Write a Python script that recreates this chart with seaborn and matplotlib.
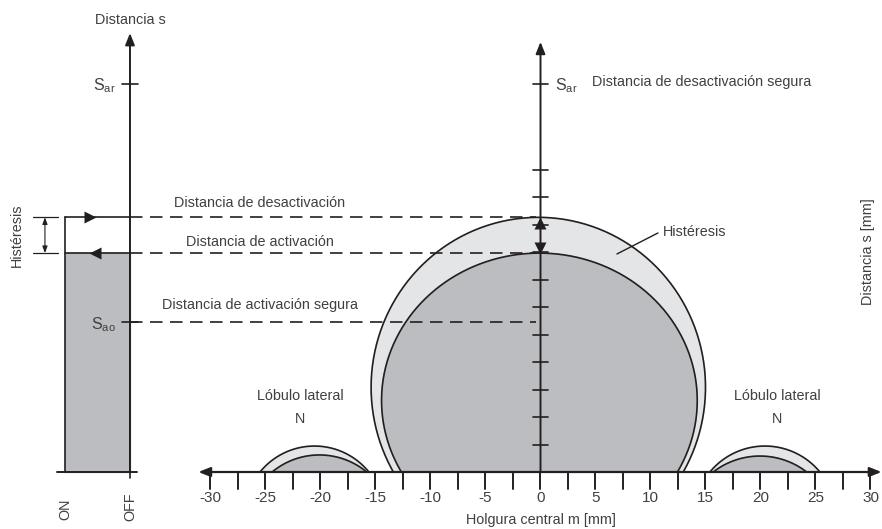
import numpy as np
import pandas as pd
import matplotlib
matplotlib.use("Agg")
import matplotlib.pyplot as plt
import seaborn as sns

# distances on the s axis [mm]
s_ar = 35.3      # safe switch-off distance
s_off = 23.15    # switch-off distance
s_on = 19.9      # switch-on distance
s_ao = 13.6      # safe switch-on distance
s_ticks = [2.5, 5, 7.5, 10, 12.5, 15, 17.5, 20, 22.5, 25, 27.5]

# x axis (central offset m [mm])
m_ticks = np.arange(-30, 30.1, 2.5)
m_labels = [-30, -25, -20, -15, -10, -5, 0, 5, 10, 15, 20, 25, 30]

# lobes: centre x, centre s, half width a, half height b
outer_cx = [-0.2, -20.55, 20.4]
outer_cs = [7.7, -4.01, -4.12]
outer_a = [15.2, 6.37, 6.48]
outer_b = [15.45, 6.37, 6.48]
inner_cx = [-0.1, -20.1, 19.95]
inner_cs = [6.5, -5.19, -5.5]
inner_a = [14.35, 6.74, 6.95]
inner_b = [13.4, 6.74, 6.95]

dark = "#bcbdc0"
light = "#e4e5e7"
ink = "#231f20"
txt = "#404040"

sns.set_theme(style="white")
plt.rcParams['font.family'] = ['Liberation Sans', 'DejaVu Sans']
plt.rcParams['mathtext.fontset'] = 'custom'
plt.rcParams['mathtext.rm'] = 'Liberation Sans'

fig = plt.figure(figsize=(8.82, 5.29), dpi=100)
ax = fig.add_axes([0, 0, 1, 1])
ax.set_xlim(-540.5 / 11, (882 - 540.5) / 11)
ax.set_ylim((472 - 529) / 11, 472 / 11)
ax.axis('off')


def lobe(cx, cs, a, b):
    t0 = np.arcsin(np.clip(-cs / b, -1, 1))
    t = np.linspace(t0, np.pi - t0, 200)
    return cx + a * np.cos(t), cs + b * np.sin(t)


# lobes
for i in range(3):
    x, y = lobe(outer_cx[i], outer_cs[i], outer_a[i], outer_b[i])
    ax.fill(x, y, color=light, zorder=1)
    sns.lineplot(x=x, y=y, sort=False, estimator=None, color=ink, lw=1.2, ax=ax, zorder=2)
    x, y = lobe(inner_cx[i], inner_cs[i], inner_a[i], inner_b[i])
    ax.fill(x, y, color=dark, zorder=2)
    sns.lineplot(x=x, y=y, sort=False, estimator=None, color=ink, lw=1.2, ax=ax, zorder=3)

# left switching bar
x_sw = -37.32
x_on = -43.23
ax.fill_between([x_on, x_sw], 0, s_on, color=dark, zorder=1)
ax.plot([x_on, x_on], [0, s_off], color=ink, lw=1.2, zorder=3)
ax.plot([x_on, x_sw], [s_off, s_off], color=ink, lw=1.2, zorder=3)
ax.plot([x_on, x_sw], [s_on, s_on], color=ink, lw=1.2, zorder=3)
ax.plot([-43.95, -36.68], [0, 0], color=ink, lw=1.4, zorder=3)
ax.plot([x_sw, x_sw], [0, -0.55], color=ink, lw=1.2, zorder=3)
ax.plot([(90 - 540.5) / 11], [s_off], marker='>', ms=8, color=ink, mec='none', zorder=4)
ax.plot([(95 - 540.5) / 11], [s_on], marker='<', ms=8, color=ink, mec='none', zorder=4)
ax.annotate('', xy=(x_sw, 39.9), xytext=(x_sw, 0),
            arrowprops=dict(arrowstyle='-|>,head_length=0.7,head_width=0.28', color=ink,
                            lw=1.4, shrinkA=0, shrinkB=0, mutation_scale=10), zorder=4)
ax.plot([-38.0, -36.6], [s_ar, s_ar], color=ink, lw=1.2)
ax.plot([-38.0, -36.6], [s_ao, s_ao], color=ink, lw=1.2)

# hysteresis dimension
x_dim = -45.05
for s in [s_off, s_on]:
    ax.plot([-46.14, -43.86], [s, s], color=ink, lw=0.9)
ax.annotate('', xy=(x_dim, s_off), xytext=(x_dim, s_on),
            arrowprops=dict(arrowstyle='<|-|>,head_length=0.4,head_width=0.15', color=ink,
                            lw=0.8, shrinkA=0, shrinkB=0, mutation_scale=10))

# dashed reference lines
for s in [s_off, s_on, s_ao]:
    sns.lineplot(x=[x_sw, -0.4], y=[s, s], color=ink, lw=1.2, ax=ax, zorder=5,
                 linestyle=(0, (7.5, 4.5)))

# main axes
ax.annotate('', xy=(31.0, 0), xytext=(-31.1, 0),
            arrowprops=dict(arrowstyle='<|-|>,head_length=0.7,head_width=0.28', color=ink,
                            lw=1.6, shrinkA=0, shrinkB=0, mutation_scale=10), zorder=6)
ax.annotate('', xy=(0, 39.1), xytext=(0, 0),
            arrowprops=dict(arrowstyle='-|>,head_length=0.7,head_width=0.28', color=ink,
                            lw=1.4, shrinkA=0, shrinkB=0, mutation_scale=10), zorder=6)
for m in m_ticks:
    ax.plot([m, m], [0, -1.55], color=ink, lw=1.4, zorder=6)
for s in s_ticks + [s_ar]:
    ax.plot([-0.7, 0.7], [s, s], color=ink, lw=1.2, zorder=6)
ax.plot([0], [s_off - 0.5], marker='^', ms=9, color=ink, mec='none', zorder=7)
ax.plot([0], [s_on + 0.5], marker='v', ms=9, color=ink, mec='none', zorder=7)
for v in m_labels:
    ax.text(v, -2.4, str(v), ha='center', va='center', fontsize=11, color=txt)

# leader for hysteresis label
ax.plot([6.95, 10.68], [19.82, 21.73], color=ink, lw=1.0, zorder=6)

# texts
fs = 10.4
ax.text(-37.32, 41.1, "Distancia s", ha='center', va='center', fontsize=fs, color=txt)
ax.text(-38.6, 35.1, r"S$_\mathregular{ar}$", ha='right', va='center', fontsize=11.5, color=txt)
ax.text(-38.6, 13.4, r"S$_\mathregular{ao}$", ha='right', va='center', fontsize=11.5, color=txt)
ax.text(1.3, 35.1, r"S$_\mathregular{ar}$", ha='left', va='center', fontsize=11.5, color=txt)
ax.text(4.68, 35.45, "Distancia de desactivación segura", ha='left', va='center', fontsize=fs, color=txt)
ax.text(-25.5, 24.45, "Distancia de desactivación", ha='center', va='center', fontsize=fs, color=txt)
ax.text(-25.5, 20.9, "Distancia de activación", ha='center', va='center', fontsize=fs, color=txt)
ax.text(-25.5, 15.18, "Distancia de activación segura", ha='center', va='center', fontsize=fs, color=txt)
ax.text(-47.6, 21.5, "Histéresis", ha='center', va='center', rotation=90, fontsize=fs, color=txt)
ax.text(11.14, 21.8, "Histéresis", ha='left', va='center', fontsize=fs, color=txt)
ax.text(29.77, 20.0, "Distancia s [mm]", ha='center', va='center', rotation=90, fontsize=fs, color=txt)
for cx in [-21.86, 21.5]:
    ax.text(cx, 6.9, "Lóbulo lateral", ha='center', va='center', fontsize=fs, color=txt)
    ax.text(cx, 4.82, "N", ha='center', va='center', fontsize=fs, color=txt)
ax.text(-43.2, -3.36, "ON", ha='center', va='center', rotation=90, fontsize=fs, color=txt)
ax.text(-37.3, -3.18, "OFF", ha='center', va='center', rotation=90, fontsize=fs, color=txt)
ax.text(0, -4.4, "Holgura central m [mm]", ha='center', va='center', fontsize=fs, color=txt)

fig.savefig("out.png", dpi=100)
